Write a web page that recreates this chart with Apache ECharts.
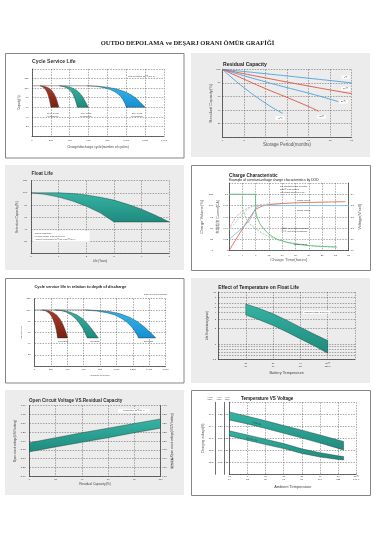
<!DOCTYPE html>
<html>
<head>
<meta charset="utf-8">
<title>OUTDO DEPOLAMA ve DEŞARJ ORANI ÖMÜR GRAFİĞİ</title>
<script src="https://cdn.jsdelivr.net/npm/echarts@6.0.0/dist/echarts.min.js"></script>
<style>
  html, body { margin: 0; padding: 0; background: #fff; }
  #chart { width: 375px; height: 535px; }
</style>
</head>
<body>
<div id="chart"></div>
<script>
// ---------- data ----------

// 1. Cycle Service Life: capacity(%) against cycles, one band per depth of discharge
const cycleTopLine = [[0, 105], [580, 105]];
const cycleRedOuter = [[85,105],[130,104],[170,101],[205,96],[232,89],[252,81],[266,73],[277,66],[285,60]];
const cycleRedInner = [[85,105],[110,103],[135,99],[155,93],[170,86],[182,78],[191,70],[197,64],[200,60]];
const cycleTealOuter = [[290,105],[360,104],[420,101],[470,96],[510,89],[540,81],[562,73],[582,66],[597,60]];
const cycleTealInner = [[290,105],[340,103],[380,99],[410,94],[435,87],[452,79],[466,71],[476,64],[480,60]];
const cycleBlueOuter = [[580,105],[700,104],[800,102],[900,98],[980,93],[1050,86],[1110,78],[1150,70],[1180,64],[1200,60]];
const cycleBlueInner = [[580,105],[680,104],[760,101],[830,97],[890,91],[935,84],[965,76],[985,68],[1000,60]];

// 2. Residual Capacity: capacity(%) against storage months
const resid0 = [[0,100],[3,96.8],[6,93.5],[9,90.2],[12,86.8],[15,83.4],[18,80]];
const resid10 = [[0,100],[3,93.5],[6,87.3],[9,81.2],[12,75.3],[15,69.5],[18,64]];
const resid20 = [[0,100],[3,90.5],[6,81.5],[9,73],[12,64.8],[14,59],[16.2,52]];
const resid30 = [[0,100],[3,85.5],[6,71.5],[9,58.5],[12,45],[13.4,38]];
const resid40 = [[0,100],[1.5,86],[3,73],[4.5,61],[6,50],[7.2,42],[8.4,35]];

// 3. Float Life: retention capacity(%) against years
const floatUpper = [[0,100],[0.5,100],[1,100],[1.5,98.8],[2,96.5],[2.5,92.8],[3,88],[3.5,81],[4,73],[4.5,63],[5,52]];
const floatLower = [[0,100],[0.5,97.5],[1,93],[1.5,86.5],[2,78],[2.5,67],[3,52],[5,52]];

// 4. Charge Characteristic: against charge time (hours)
const chgVolume100 = [[0,0],[2,24],[4,48],[6,71],[8,92],[10,99],[12,102],[16,104.5],[20,106],[24,107],[30,108],[35,108.5]];
const chgVolume50 = [[0,48],[1,62],[2,73],[3,81],[4,88],[6,96],[8,100.5],[10,102.5],[12,103.5],[16,104.8]];
const chgCurrent100 = [[0,0.1],[8,0.1],[8,0.07],[8.5,0.058],[9.3,0.048],[10.3,0.04],[11.5,0.032],[13,0.025],[15,0.019],[18,0.014],[21.5,0.0105],[26,0.008],[32.4,0.0065]];
const chgCurrent50 = [[0,0.1],[4,0.1],[4,0.075],[4.6,0.065],[5.3,0.055],[6.5,0.046],[8,0.039],[10,0.031],[12,0.025],[15,0.019],[18,0.0145],[24,0.0095],[28,0.0075],[32.4,0.0065]];
const chgVoltage100 = [[0,2.0],[2,2.05],[4,2.1],[6,2.16],[7,2.21],[8,2.28],[9,2.3],[36,2.3]];
const chgVoltage50 = [[0,2.08],[1,2.12],[2.3,2.16],[3.3,2.2],[4.3,2.23],[5.5,2.265],[6.8,2.29],[8,2.3],[36,2.3]];

// 5. Cycle life vs depth of discharge: capacity(%) against number of cycles
const dodTopLine = [[0, 100], [620, 100]];
const dodRedOuter = [[90,100],[160,99],[220,96],[270,91],[310,84],[345,75],[370,66],[390,58],[405,50]];
const dodRedInner = [[90,100],[140,98],[180,94],[212,88],[235,80],[253,72],[266,64],[275,57],[280,50]];
const dodTealOuter = [[250,100],[350,99],[440,96],[520,91],[590,84],[650,75],[700,66],[745,57],[780,50]];
const dodTealInner = [[250,100],[320,99],[390,96],[450,91],[505,84],[550,76],[590,67],[620,58],[645,50]];
const dodBlueOuter = [[620,100],[780,99],[920,97],[1050,93],[1160,87],[1260,79],[1340,70],[1410,60],[1450,55],[1480,50]];
const dodBlueInner = [[620,100],[760,98],[880,95],[980,91],[1060,85],[1130,78],[1185,70],[1225,62],[1255,55],[1270,50]];

// 6. Effect of temperature on float life: years against °C
const lifeTempC = [20, 30, 40, 50];
const lifeTempF = [68, 86, 104, 122];
const lifeTicks = [0.5, 0.6, 0.7, 0.8, 0.9, 1, 2, 3, 4, 5, 6, 8, 10];
const lifeLabels = [0.5, 1, 2, 3, 4, 5, 6, 8, 10];
const lifeUpper = [[20,5.9],[25,4.8],[30,3.8],[35,2.85],[40,2.1],[45,1.55],[50,1.16]];
const lifeLower = [[20,3.6],[25,2.9],[30,2.26],[35,1.7],[40,1.25],[45,0.92],[50,0.66]];

// 7. Open circuit voltage (V/6V battery) against residual capacity(%)
const ocvUpper = [[0,5.95],[20,6.09],[40,6.23],[60,6.36],[80,6.49],[100,6.62]];
const ocvLower = [[0,5.69],[20,5.83],[40,5.96],[60,6.09],[80,6.23],[100,6.36]];

// 8. Temperature VS Voltage: charging voltage (V/cell) against °C
const ambC = [-10, 0, 10, 20, 30, 40, 50, 60];
const ambF = [14, 32, 50, 68, 86, 104, 122, 140];
const cycleUseTop = [[-10,2.46],[0,2.442],[10,2.423],[20,2.403],[30,2.384],[40,2.364],[50,2.343],[53,2.337]];
const cycleUseBottom = [[-10,2.426],[0,2.41],[10,2.391],[20,2.371],[30,2.351],[40,2.33],[50,2.308],[53,2.301]];
const standbyTop = [[-10,2.381],[0,2.364],[10,2.346],[20,2.328],[30,2.306],[40,2.29],[50,2.277],[53,2.274]];
const standbyBottom = [[-10,2.36],[0,2.342],[10,2.324],[20,2.307],[30,2.287],[40,2.272],[50,2.262],[53,2.26]];

// ---------- helpers ----------
const FONT = "'Liberation Sans', 'Noto Sans CJK TC', sans-serif";
const RED = ['#b03a27', '#7a2113'];
const TEAL = ['#36b4a4', '#1e8a7c'];
const BLUE = ['#35b6f0', '#1590d0'];

function grad(c) {
  return new echarts.graphic.LinearGradient(0, 0, 0, 1, [
    { offset: 0, color: c[0] },
    { offset: 1, color: c[1] }
  ]);
}

// closed band between two curves, drawn through the axis scales
function bandS(xi, yi, outer, inner, colors) {
  const pts = outer.concat(inner.slice().reverse());
  return {
    type: 'custom', xAxisIndex: xi, yAxisIndex: yi, data: pts, clip: true, silent: true, z: 3,
    renderItem: function (params, api) {
      if (params.dataIndex !== 0) return null;
      return {
        type: 'polygon',
        shape: { points: pts.map(function (p) { return api.coord(p); }) },
        style: { fill: grad(colors), stroke: '#1d2e2c', lineWidth: 0.4 }
      };
    }
  };
}

function lineS(xi, yi, data, color, width, extra) {
  return echarts.util.merge({
    type: 'line', xAxisIndex: xi, yAxisIndex: yi, data: data, symbol: 'none', silent: true, z: 4,
    lineStyle: { color: color, width: width }
  }, extra || {}, true);
}

function ax(o) {
  return echarts.util.merge({
    type: 'value',
    nameLocation: 'middle',
    nameTextStyle: { fontSize: 3, color: '#444', fontFamily: FONT },
    axisLine: { show: true, onZero: false, lineStyle: { color: '#333', width: 0.7 } },
    axisTick: { show: false },
    axisLabel: { fontSize: 2.4, color: '#333', margin: 2, fontFamily: FONT },
    splitLine: { show: true, lineStyle: { color: '#555', width: 0.5, type: [1.5, 1.2] } }
  }, o, true);
}

function txt(x, y, text, size, o) {
  o = o || {};
  const style = {
    text: text, fontSize: size, fontFamily: o.family || FONT,
    fontWeight: o.bold ? 'bold' : 'normal', fill: o.color || '#333',
    align: o.align || 'left', verticalAlign: 'middle',
    textAlign: o.align || 'left', textVerticalAlign: 'middle'
  };
  if (o.lineHeight) style.lineHeight = o.lineHeight;
  if (o.bg) { style.backgroundColor = o.bg; style.padding = o.padding || [0.5, 1.5]; }
  return { type: 'text', x: x, y: y, z: 50, silent: true, rotation: o.rotation || 0, style: style };
}

const fixed = function (d) { return function (v) { return v.toFixed(d); }; };

// ---------- layout ----------
const grids = [
  { left: 32, top: 69, width: 132, height: 67 },
  { left: 222.3, top: 69.3, width: 129.4, height: 67.7 },
  { left: 31, top: 180.7, width: 138.3, height: 72.8 },
  { left: 229, top: 183, width: 119.7, height: 67.7 },
  { left: 34.5, top: 298.7, width: 131, height: 67.3 },
  { left: 218.5, top: 292, width: 136.5, height: 67.6 },
  { left: 29.5, top: 405.5, width: 131, height: 70.8 },
  { left: 229.3, top: 402.3, width: 127, height: 72 }
];

const xAxes = [
  ax({ gridIndex: 0, min: 0, max: 1400, interval: 200, name: 'Charge/discharge cycle(number of cycles)', nameGap: 9.4, nameTextStyle: { fontSize: 3.3 }, axisLabel: { margin: 3.5 } }),
  ax({ gridIndex: 1, min: 0, max: 18, interval: 3, name: 'Storage Period(months)', nameGap: 5.8, nameTextStyle: { fontSize: 4.5, color: '#555' }, axisLabel: { margin: 2.5 } }),
  ax({ gridIndex: 2, min: 0, max: 5, interval: 1, name: 'Life (Years)', nameGap: 6, nameTextStyle: { fontSize: 2.8 } }),
  ax({ gridIndex: 3, min: 0, max: 36, interval: 4, name: 'Charge Time(hours)', nameGap: 7.3, nameTextStyle: { fontSize: 4.2, color: '#555' }, axisLabel: { margin: 3 } }),
  ax({ gridIndex: 4, min: 0, max: 1600, interval: 200, name: 'Number of Cycles', nameGap: 8, nameTextStyle: { fontSize: 2.4 }, axisLabel: { margin: 2.5 } }),
  ax({ gridIndex: 5, min: 10, max: 60, interval: 10, name: 'Battery Temperature', nameGap: 11.5, nameTextStyle: { fontSize: 3.8 },
       axisLabel: { margin: 2, lineHeight: 3, formatter: function (v) {
         const i = lifeTempC.indexOf(v);
         if (i < 0) return '';
         const last = i === lifeTempC.length - 1;
         return (last ? v + '℃' : v) + '\n' + (last ? lifeTempF[i] + '°F' : lifeTempF[i]);
       } } }),
  ax({ gridIndex: 6, min: 0, max: 100, interval: 20, name: 'Residual Capacity(%)', nameGap: 6.4, nameTextStyle: { fontSize: 3.3 } }),
  ax({ gridIndex: 7, min: -10, max: 60, interval: 10, name: 'Ambient Temperature', nameGap: 10.8, nameTextStyle: { fontSize: 3.9 },
       axisLabel: { margin: 1, lineHeight: 3, formatter: function (v) {
         const i = ambC.indexOf(v);
         const last = i === ambC.length - 1;
         return (last ? v + '℃' : v) + '\n' + (last ? ambF[i] + '°F' : ambF[i]);
       } } })
];

const yAxes = [
  ax({ gridIndex: 0, position: 'left', min: 0, max: 140, interval: 20, name: 'Capacity(%)', nameGap: 8.4, nameTextStyle: { fontSize: 2.6 }, axisLabel: { showMaxLabel: false, showMinLabel: false, margin: 3.5 } }),
  ax({ gridIndex: 1, position: 'left', min: 0, max: 100, interval: 20, name: 'Residual Capacity(%)', nameGap: 9.6, nameTextStyle: { fontSize: 4, color: '#555' }, axisLabel: { showMinLabel: false } }),
  ax({ gridIndex: 2, position: 'left', min: 0, max: 120, interval: 20, name: 'Retention Capacity(%)', nameGap: 8.4, nameTextStyle: { fontSize: 3.2 }, axisLabel: { showMinLabel: false, margin: 4 } }),
  ax({ gridIndex: 3, position: 'left', min: 0, max: 150, interval: 25, offset: 15, axisLine: { show: false }, splitLine: { show: false }, name: 'Charge Volume(%)', nameGap: 10.3, nameTextStyle: { fontSize: 4, color: '#555' }, axisLabel: { showMaxLabel: false, margin: 1 } }),
  ax({ gridIndex: 3, position: 'left', min: 0, max: 0.12, interval: 0.02, name: '充電電流 Current(CA)', nameGap: 7.7, nameTextStyle: { fontSize: 3.5, color: '#555' }, axisLabel: { showMaxLabel: false, margin: 1 } }),
  ax({ gridIndex: 3, position: 'right', min: 1.9, max: 2.5, interval: 0.1, splitLine: { show: false }, name: 'Voltage(V/cell)', nameGap: 9.3, nameTextStyle: { fontSize: 4, color: '#555' }, axisLabel: { showMaxLabel: false, margin: 1.8, formatter: fixed(1) } }),
  ax({ gridIndex: 4, position: 'left', min: 0, max: 120, interval: 20, name: 'Capacity(%)', nameGap: 11.2, nameTextStyle: { fontSize: 2.4 }, axisLabel: { showMinLabel: false, margin: 4 } }),
  ax({ gridIndex: 5, position: 'left', min: Math.log10(0.5), max: 1, name: 'Life Expectancy(year)', nameGap: 8.6,
       axisTick: { show: false, customValues: lifeTicks.map(Math.log10) },
       axisLabel: { margin: 2.5, customValues: lifeLabels.map(Math.log10), formatter: function (v) { return String(+Math.pow(10, v).toFixed(1)); } } }),
  ax({ gridIndex: 6, position: 'left', min: 5, max: 7, interval: 0.25, name: 'Open circuit voltage(V/6V battery)', nameGap: 10.7, nameTextStyle: { fontSize: 2.8 }, axisLabel: { margin: 4, formatter: fixed(2) } }),
  ax({ gridIndex: 6, position: 'right', min: 10, max: 14, interval: 0.5, splitLine: { show: false }, name: '開路電壓 Open circuit voltage(V/12V battery)', nameGap: 9.7, nameTextStyle: { fontSize: 2.8 }, axisLabel: { margin: 1.8, formatter: fixed(1) } }),
  ax({ gridIndex: 7, position: 'left', min: 2.2, max: 2.5, interval: 0.05, axisLabel: { showMinLabel: false, showMaxLabel: false, margin: 1, formatter: fixed(2) } }),
  ax({ gridIndex: 7, position: 'left', min: 6.6, max: 7.5, interval: 0.15, offset: 5.5, splitLine: { show: false }, axisLabel: { showMinLabel: false, showMaxLabel: false, margin: 1.5, formatter: fixed(2) } }),
  ax({ gridIndex: 7, position: 'left', min: 13.2, max: 15, interval: 0.3, offset: 14.5, splitLine: { show: false }, name: 'Charging voltage(V)', nameGap: 10, nameTextStyle: { fontSize: 3.3 }, axisLabel: { showMinLabel: false, showMaxLabel: false, margin: 1.5, formatter: fixed(1) } })
];

const toLog = function (arr) { return arr.map(function (p) { return [p[0], Math.log10(p[1])]; }); };

const series = [
  // 1
  lineS(0, 0, cycleTopLine, '#666', 0.6),
  bandS(0, 0, cycleRedOuter, cycleRedInner, RED),
  bandS(0, 0, cycleTealOuter, cycleTealInner, TEAL),
  bandS(0, 0, cycleBlueOuter, cycleBlueInner, BLUE),
  // 2
  lineS(1, 1, resid0, '#45a3dc', 0.9, { smooth: true }),
  lineS(1, 1, resid10, '#e0503e', 0.9, { smooth: true }),
  lineS(1, 1, resid20, '#45a3dc', 0.9, { smooth: true }),
  lineS(1, 1, resid30, '#e0503e', 0.9, { smooth: true }),
  lineS(1, 1, resid40, '#45a3dc', 0.9, { smooth: true }),
  // 3
  bandS(2, 2, floatUpper, floatLower, TEAL),
  // 4
  lineS(3, 3, chgVolume100, '#e2583f', 0.8),
  lineS(3, 3, chgVolume50, '#e88a70', 0.7, { lineStyle: { type: [2, 1.2] } }),
  lineS(3, 4, chgCurrent100, '#55b46e', 0.8),
  lineS(3, 4, chgCurrent50, '#6fc084', 0.7, { lineStyle: { type: [2, 1.2] } }),
  lineS(3, 5, chgVoltage100, '#72bfe6', 0.8),
  lineS(3, 5, chgVoltage50, '#8ccbec', 0.7, { lineStyle: { type: [2, 1.2] } }),
  // 5
  lineS(4, 6, dodTopLine, '#666', 0.6),
  bandS(4, 6, dodRedOuter, dodRedInner, RED),
  bandS(4, 6, dodTealOuter, dodTealInner, TEAL),
  bandS(4, 6, dodBlueOuter, dodBlueInner, BLUE),
  // 6
  bandS(5, 7, toLog(lifeUpper), toLog(lifeLower), TEAL),
  // 7
  bandS(6, 8, ocvUpper, ocvLower, TEAL),
  // 8
  bandS(7, 10, cycleUseTop, cycleUseBottom, TEAL),
  bandS(7, 10, standbyTop, standbyBottom, TEAL)
];

// panel backgrounds: [x, y, w, h, fill, bordered]
const panels = [
  [5.5, 53.5, 178.5, 104.5, '#fff', true],
  [191, 53, 179, 104, '#ececec', false],
  [5, 165, 179, 105, '#ececec', false],
  [191.5, 165.5, 179, 105, '#fff', true],
  [5.5, 278.5, 178.5, 104.5, '#fff', true],
  [191, 278, 179, 105, '#ececec', false],
  [5, 390, 179, 105, '#ececec', false],
  [191.5, 390.5, 179, 105, '#fff', true]
];

const graphics = panels.map(function (p) {
  return {
    type: 'rect', z: -10, silent: true,
    shape: { x: p[0], y: p[1], width: p[2], height: p[3] },
    style: { fill: p[4], stroke: p[5] ? '#858585' : null, lineWidth: 1 }
  };
});

graphics.push(
  txt(187.5, 43, 'OUTDO DEPOLAMA ve DEŞARJ ORANI ÖMÜR GRAFİĞİ', 6.5, { bold: true, align: 'center', color: '#222', family: "'Liberation Serif', serif" }),
  // 1
  txt(32, 62, 'Cycle Service Life', 5.1, { bold: true, color: '#333' }),
  txt(141.7, 76, 'Temperature 25℃(77°F)', 2.5, { align: 'center', color: '#444' }),
  txt(52.7, 114.5, '100% depth\nof discharge', 2.2, { align: 'center', lineHeight: 2.8, color: '#444' }),
  txt(86, 114.5, '50% depth\nof discharge', 2.2, { align: 'center', lineHeight: 2.8, color: '#444' }),
  txt(137, 115, '30% depth\nof discharge', 2.2, { align: 'center', lineHeight: 2.8, color: '#444' }),
  // 2
  txt(223, 64.8, 'Residual Capacity', 5.1, { bold: true, color: '#222' }),
  txt(345.5, 77.3, '0℃', 2.4, { align: 'center', bg: '#fff', padding: [0.6, 2] }),
  txt(345.5, 88.7, '10℃', 2.4, { align: 'center', bg: '#fff', padding: [0.6, 2] }),
  txt(343.3, 101.7, '20℃', 2.4, { align: 'center', bg: '#fff', padding: [0.6, 2] }),
  txt(321.7, 116.7, '30℃', 2.4, { align: 'center', bg: '#fff', padding: [0.6, 2] }),
  txt(280, 118, '40℃', 2.4, { align: 'center', bg: '#fff', padding: [0.6, 2] }),
  // 3
  txt(31.5, 173.7, 'Float Life', 4.8, { bold: true, color: '#333' }),
  txt(33.3, 236.2, 'Testing conditions:\nFloating voltage 2.25V/2.30V/cell\nAmbient temperature 20℃(68°F)/25℃(77°F)', 2.1,
      { lineHeight: 3.1, bg: '#fff', padding: [1, 14, 1, 1.3], color: '#444' }),
  // 4
  txt(229, 175.6, 'Charge Characteristic', 4.7, { bold: true, color: '#222' }),
  txt(229, 180.3, 'Example of constant-voltage charge characteristics by DOD', 3.4, { color: '#222' }),
  txt(280, 189.5, 'The constant voltage of charge\nat 25℃ is as followed\nMax charge current is 0.1CA', 2, { lineHeight: 2.6, color: '#333' }),
  txt(303.7, 200, 'Charge volume', 2, { align: 'center', color: '#333' }),
  txt(303.7, 210, 'Charge voltage', 2, { align: 'center', color: '#333' }),
  txt(300.3, 244, 'Charge current', 2, { align: 'center', color: '#333' }),
  { type: 'line', z: 50, silent: true, shape: { x1: 281.7, y1: 228.3, x2: 286.5, y2: 228.3 }, style: { stroke: '#333', lineWidth: 0.6 } },
  { type: 'line', z: 50, silent: true, shape: { x1: 281.7, y1: 231, x2: 286.5, y2: 231 }, style: { stroke: '#333', lineWidth: 0.6, lineDash: [1, 0.7] } },
  txt(287.5, 228.3, '100% depth of discharge', 1.9, { color: '#333' }),
  txt(287.5, 231, '50% depth of discharge', 1.9, { color: '#333' }),
  // 5
  txt(34.5, 287, 'Cycle service life in relation to depth of discharge', 3.9, { bold: true, color: '#222' }),
  txt(167.3, 294, 'DOD: Depth of discharge', 2.1, { align: 'right', color: '#444' }),
  txt(63.3, 341, '100%DOD', 2.2, { align: 'center', color: '#444' }),
  txt(95, 341, '50%DOD', 2.2, { align: 'center', color: '#444' }),
  txt(148.5, 341, '30%DOD', 2.2, { align: 'center', color: '#444' }),
  // 6
  txt(218.3, 287.3, 'Effect of Temperature on Float Life', 4.9, { bold: true, color: '#222' }),
  txt(302.7, 312.3, 'Charging voltage 2.27V/cell', 2, { bg: '#fff', padding: [0.5, 1.5], color: '#444' }),
  // 7
  txt(29, 401, 'Open Circuit Voltage VS.Residual Capacity', 4.6, { bold: true, color: '#333' }),
  txt(134, 410.7, 'Temperature 25℃(77°F)', 2, { align: 'center', bg: '#fff', padding: [0.8, 5], color: '#444' }),
  // 8
  txt(241, 399, 'Temperature VS Voltage', 4.6, { bold: true, color: '#222' }),
  txt(210, 398.3, '(V)/12V\nbattery', 1.6, { align: 'center', lineHeight: 2, color: '#444' }),
  txt(219.3, 398.3, '(V)/6V\nbattery', 1.6, { align: 'center', lineHeight: 2, color: '#444' }),
  txt(227.5, 398.3, '(V)/2V\nbattery', 1.6, { align: 'center', lineHeight: 2, color: '#444' }),
  txt(256.7, 423.3, 'Cycle use', 2, { align: 'center', rotation: -0.25, color: '#1d3b37' }),
  txt(251.7, 439.3, 'Standby use', 2, { align: 'center', rotation: -0.22, color: '#1d3b37' })
);

const chart = echarts.init(document.getElementById('chart'));
chart.setOption({
  backgroundColor: '#fff',
  animation: false,
  textStyle: { fontFamily: FONT },
  grid: grids,
  xAxis: xAxes,
  yAxis: yAxes,
  series: series,
  graphic: { elements: graphics }
});
</script>
</body>
</html>
